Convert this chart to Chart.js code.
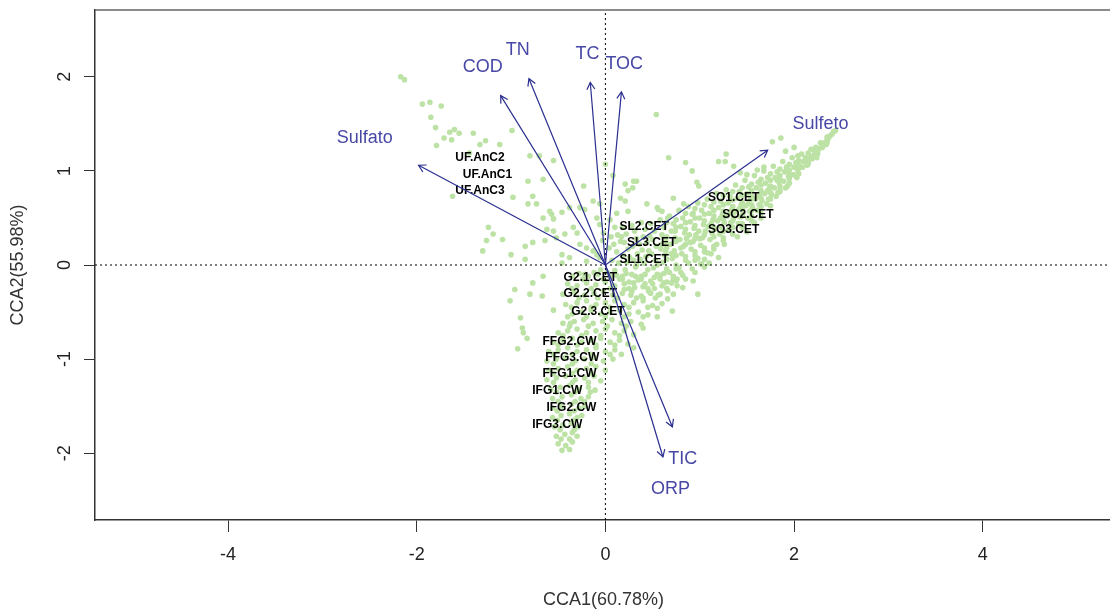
<!DOCTYPE html>
<html lang="pt">
<head>
<meta charset="UTF-8">
<title>CCA biplot</title>
<script src="https://cdn.jsdelivr.net/npm/chart.js"></script>
<style>
  html, body { margin: 0; padding: 0; background: #fff; overflow: hidden; }
  #wrap { width: 1110px; height: 611px; overflow: hidden; }
</style>
</head>
<body>
<div id="wrap"><canvas id="cca" width="1116" height="611"></canvas></div>
<script>
// axes
const xRange = [-5.41, 5.37];
const yRange = [-2.71, 2.71];
const xTicks = [-4, -2, 0, 2, 4];
const yTicks = [-2, -1, 0, 1, 2];
const xTitle = 'CCA1(60.78%)';
const yTitle = 'CCA2(55.98%)';

// environmental vectors (arrow tips + label spots)
const envNames = ['COD', 'TN', 'TC', 'TOC', 'Sulfato', 'Sulfeto', 'TIC', 'ORP'];
const envX = [-1.11, -0.81, -0.16, 0.17, -1.98, 1.72, 0.71, 0.61];
const envY = [1.80, 1.98, 1.94, 1.84, 1.06, 1.22, -1.72, -2.04];
const envLabelX = [-1.30, -0.93, -0.19, 0.20, -2.55, 2.28, 0.82, 0.69];
const envLabelY = [2.10, 2.28, 2.24, 2.14, 1.35, 1.50, -2.06, -2.38];

// sample (site) labels
const siteNames = ['UF.AnC2', 'UF.AnC1', 'UF.AnC3', 'SL2.CET', 'SL3.CET', 'SL1.CET',
  'SO1.CET', 'SO2.CET', 'SO3.CET', 'G2.1.CET', 'G2.2.CET', 'G2.3.CET',
  'FFG2.CW', 'FFG3.CW', 'FFG1.CW', 'IFG1.CW', 'IFG2.CW', 'IFG3.CW'];
const siteX = [-1.33, -1.25, -1.33, 0.41, 0.49, 0.41, 1.36, 1.51, 1.36, -0.16, -0.16, -0.08,
  -0.38, -0.35, -0.38, -0.51, -0.36, -0.51];
const siteY = [1.14, 0.96, 0.79, 0.41, 0.24, 0.06, 0.72, 0.54, 0.37, -0.14, -0.31, -0.50,
  -0.81, -0.99, -1.16, -1.34, -1.52, -1.70];

// species scores
const speciesUpper = [
  [-2.17,2.00],[-2.13,1.97],[-1.94,1.71],[-1.86,1.73],[-1.74,1.69],[-1.85,1.57],[-1.80,1.46],
  [-1.65,1.41],[-1.60,1.44],[-1.55,1.40],[-1.71,1.35],[-1.63,1.33],[-1.40,1.40],[-1.33,1.28],
  [-1.27,1.32],[-1.12,1.28],[-0.99,1.43],[-1.79,1.27],[-1.44,1.19],[-0.80,1.16],[-0.70,1.16],
  [-0.55,1.11],[-0.66,0.91],[-0.82,0.89],[-0.23,0.84],[-1.62,0.73],[-0.98,0.72],[-0.77,0.73],
  [-0.73,0.65],[-0.82,0.65],[-0.59,0.57],[-0.57,0.54],[-0.55,0.49],[-0.66,0.50],[-0.46,0.56],
  [-0.38,0.61],[-0.27,0.61],[-0.22,0.59],[-0.13,0.68],[-0.06,0.65],[-1.24,0.40],[-1.19,0.33],
  [-1.26,0.26],[-1.09,0.27],[-1.30,0.15],[-1.00,0.11],[-0.85,0.20],[-0.77,0.24],[-0.64,0.26],
  [-0.55,0.36],[-0.52,0.29],[-0.43,0.33],[-0.62,0.38],[-0.34,0.40],[-0.30,0.34],[-0.27,0.22],
  [-0.20,0.18],[-0.13,0.15],[-0.09,0.11],[-0.06,0.08],[-0.46,0.11],[-0.38,0.08],[-0.20,0.04],
  [-0.85,0.06],[-0.09,0.50],[-0.06,0.43],[-0.02,0.34],[-0.03,0.26],
  [0.54,1.60],[0.00,1.07],[0.67,1.14],[0.85,1.09],[0.92,1.00],[0.97,0.88],[0.99,0.84],
  [1.20,1.10],[1.27,1.10],[1.28,1.18],[1.36,1.05],[1.43,0.98],[1.50,0.96],[1.61,1.01],
  [1.68,1.04],[1.77,1.31],[1.86,1.35],[1.91,1.21],[2.00,1.25],[2.04,1.16],[0.30,0.89],
  [0.33,0.89],[0.24,0.79],[0.21,0.68],[0.56,0.59],[0.60,0.57],[0.21,0.86],[0.29,0.82],
  [0.16,0.71],[0.44,0.65],[0.24,0.57],[0.55,0.61],[0.72,0.71],[0.66,0.50],[0.83,0.65],
  [0.93,0.55],[0.08,0.95],[0.12,0.55],[0.05,0.48],[0.10,0.40]
];
const speciesBand = [
  [0.06,0.30],[0.09,0.22],[0.12,0.14],[0.07,0.05],[0.14,0.02],[0.10,-0.06],[0.05,-0.12],[0.15,-0.15],
  [0.08,-0.22],[0.13,0.32],[0.16,0.25],[0.04,0.18],
  [0.18,0.40],[0.22,0.33],[0.20,0.24],[0.24,0.17],[0.19,0.10],[0.23,0.03],[0.21,-0.05],[0.18,-0.12],
  [0.25,-0.18],[0.20,-0.26],[0.26,0.08],[0.17,0.30],
  [0.28,0.42],[0.31,0.36],[0.33,0.28],[0.29,0.20],[0.34,0.12],[0.30,0.05],[0.32,-0.02],[0.28,-0.10],
  [0.35,-0.16],[0.31,-0.24],[0.27,-0.32],[0.36,0.22],[0.33,0.00],
  [0.38,0.45],[0.42,0.38],[0.40,0.30],[0.44,0.24],[0.39,0.16],[0.43,0.09],[0.41,0.02],[0.45,-0.05],
  [0.38,-0.12],[0.42,-0.20],[0.46,-0.28],[0.40,-0.35],[0.37,0.06],[0.46,0.15],
  [0.48,0.44],[0.52,0.36],[0.50,0.27],[0.54,0.20],[0.49,0.12],[0.53,0.05],[0.51,-0.03],[0.55,-0.10],
  [0.48,-0.17],[0.52,-0.25],[0.56,-0.32],[0.47,0.31],[0.55,0.00],
  [0.58,0.48],[0.62,0.40],[0.60,0.32],[0.64,0.25],[0.59,0.17],[0.63,0.10],[0.61,0.03],[0.65,-0.04],
  [0.58,-0.11],[0.62,-0.19],[0.66,-0.27],[0.60,0.22],[0.64,0.14],
  [0.68,0.52],[0.72,0.44],[0.70,0.36],[0.74,0.29],[0.69,0.22],[0.73,0.15],[0.71,0.07],[0.75,0.00],
  [0.68,-0.08],[0.72,-0.15],[0.76,-0.22],[0.70,0.12],[0.74,0.36],
  [0.78,0.58],[0.82,0.50],[0.80,0.41],[0.84,0.34],[0.79,0.27],[0.83,0.20],[0.81,0.12],[0.85,0.05],
  [0.78,-0.03],[0.82,-0.11],[0.86,0.28],[0.80,0.18],
  [0.88,0.62],[0.92,0.54],[0.90,0.46],[0.94,0.39],[0.89,0.32],[0.93,0.25],[0.91,0.17],[0.95,0.10],
  [0.88,0.02],[0.92,-0.04],[0.96,0.32],[0.90,0.24],
  [0.98,0.66],[1.02,0.58],[1.00,0.50],[1.04,0.43],[0.99,0.36],[1.03,0.29],[1.01,0.21],[1.05,0.14],
  [0.98,0.07],[1.02,0.01],[1.06,0.36],[1.00,0.28],
  [1.08,0.70],[1.12,0.62],[1.10,0.55],[1.14,0.48],[1.09,0.41],[1.13,0.34],[1.11,0.27],[1.15,0.20],
  [1.08,0.13],[1.12,0.44],[1.16,0.38],
  [1.18,0.76],[1.22,0.68],[1.20,0.61],[1.24,0.54],[1.19,0.47],[1.23,0.40],[1.21,0.33],[1.25,0.26],
  [1.18,0.22],[1.22,0.50],[1.26,0.45],
  [1.28,0.80],[1.32,0.73],[1.30,0.66],[1.34,0.59],[1.29,0.52],[1.33,0.45],[1.31,0.38],[1.35,0.33],
  [1.32,0.56],[1.36,0.50],
  [1.38,0.85],[1.42,0.78],[1.40,0.71],[1.44,0.64],[1.39,0.57],[1.43,0.51],[1.41,0.44],[1.45,0.40],
  [1.42,0.60],[1.46,0.55],
  [1.48,0.90],[1.52,0.83],[1.50,0.76],[1.54,0.70],[1.49,0.63],[1.53,0.57],[1.51,0.50],[1.55,0.47],
  [1.52,0.66],[1.56,0.61],
  [1.58,0.95],[1.62,0.88],[1.60,0.82],[1.64,0.76],[1.59,0.70],[1.63,0.64],[1.61,0.58],[1.65,0.55],
  [1.62,0.73],[1.66,0.68],
  [1.68,1.00],[1.72,0.93],[1.70,0.87],[1.74,0.82],[1.69,0.76],[1.73,0.70],[1.71,0.65],[1.75,0.63],
  [1.72,0.79],[1.76,0.75],
  [1.78,1.05],[1.82,0.99],[1.80,0.93],[1.84,0.88],[1.79,0.82],[1.83,0.77],[1.81,0.73],[1.85,0.84],
  [1.82,0.90],
  [1.88,1.10],[1.92,1.04],[1.90,0.99],[1.94,0.94],[1.89,0.89],[1.93,0.84],[1.91,0.82],[1.95,0.97],
  [1.92,1.00],
  [1.98,1.14],[2.02,1.09],[2.00,1.04],[2.04,1.00],[1.99,0.96],[2.03,0.93],[2.05,1.06],
  [2.08,1.18],[2.12,1.14],[2.10,1.10],[2.14,1.06],[2.09,1.04],[2.13,1.12],[2.15,1.15],
  [2.18,1.23],[2.22,1.20],[2.20,1.16],[2.24,1.14],[2.19,1.13],[2.23,1.25],
  [2.28,1.30],[2.32,1.30],[2.30,1.25],[2.34,1.28],[2.27,1.24],[2.36,1.34],
  [2.38,1.37],[2.42,1.42],[2.40,1.39],[2.35,1.33],[2.44,1.43],
  [1.65,0.50],[1.50,0.35],[1.26,0.22],[1.12,0.12],[1.40,0.30],[1.58,0.45],[1.20,0.08],[1.05,-0.02],
  [0.95,-0.08],[0.85,-0.15],[1.10,0.02],
  [0.65,0.45],[0.65,0.30],[0.65,0.18],[0.65,0.06],[0.65,-0.06],[0.65,-0.18],
  [0.75,0.48],[0.75,0.40],[0.75,0.25],[0.75,0.10],[0.75,-0.04],[0.75,-0.17],
  [0.85,0.55],[0.85,0.45],[0.85,0.38],[0.85,0.22],[0.85,0.09],
  [0.95,0.60],[0.95,0.50],[0.95,0.42],[0.95,0.28],[0.95,0.14],[0.95,0.05],
  [1.05,0.64],[1.05,0.54],[1.05,0.47],[1.05,0.32],[1.05,0.18],[1.05,0.06],
  [1.15,0.67],[1.15,0.58],[1.15,0.52],[1.15,0.40],[1.15,0.30],[1.15,0.17],
  [1.25,0.74],[1.25,0.64],[1.25,0.57],[1.25,0.49],[1.25,0.36],[1.25,0.29],
  [1.35,0.78],[1.35,0.69],[1.35,0.62],[1.35,0.54],[1.35,0.47],[1.35,0.40],
  [1.45,0.82],[1.45,0.74],[1.45,0.67],[1.45,0.59],[1.45,0.52],[1.45,0.44],
  [1.55,0.86],[1.55,0.79],[1.55,0.73],[1.55,0.64],[1.55,0.58],[1.55,0.52],
  [1.65,0.91],[1.65,0.85],[1.65,0.79],[1.65,0.71],[1.65,0.62],
  [1.75,0.97],[1.75,0.90],[1.75,0.84],[1.75,0.77],[1.75,0.70],
  [1.85,1.02],[1.85,0.95],[1.85,0.91],[1.85,0.80],[1.85,0.78],
  [1.95,1.07],[1.95,1.01],[1.95,0.92],[1.95,0.87],
  [2.05,1.11],[2.05,1.04],[2.05,0.97],
  [2.15,1.19],[2.15,1.10],[2.15,1.08],
  [2.25,1.21],[2.25,1.18],[2.35,1.30],[2.35,1.36]
];
const speciesLower = [
  [-0.46,0.02],[-0.66,-0.12],[-0.77,-0.19],[-0.96,-0.26],[-0.80,-0.31],[-0.67,-0.33],[-1.01,-0.38],
  [-0.55,-0.48],[-0.90,-0.56],[-0.88,-0.67],[-0.37,-0.62],[-0.87,-0.72],[-0.83,-0.78],[-0.93,-0.89],
  [1.01,0.01],[0.93,-0.17],[0.98,-0.31],[0.72,-0.31],[0.71,-0.49],[0.55,-0.46],[0.40,-0.67],[0.30,-0.88],
  [-0.05,-0.05],[-0.12,-0.08],[-0.22,-0.10],[-0.35,-0.12],
  [-0.28,-0.09],[-0.18,-0.12],[-0.08,-0.10],[0.02,-0.08],[0.12,-0.11],[0.22,-0.09],[0.32,-0.12],
  [0.42,-0.10],[0.52,-0.13],[0.62,-0.09],[0.72,-0.12],[0.80,-0.08],
  [-0.40,-0.20],[-0.30,-0.22],[-0.20,-0.19],[-0.10,-0.21],[0.00,-0.18],[0.10,-0.22],[0.20,-0.20],
  [0.30,-0.19],[0.40,-0.23],[0.50,-0.20],[0.60,-0.22],[0.70,-0.19],[0.82,-0.24],
  [-0.45,-0.31],[-0.33,-0.29],[-0.22,-0.32],[-0.12,-0.30],[-0.02,-0.28],[0.08,-0.32],[0.18,-0.30],
  [0.28,-0.28],[0.38,-0.33],[0.48,-0.30],[0.58,-0.31],[0.66,-0.36],
  [-0.42,-0.42],[-0.30,-0.40],[-0.20,-0.38],[-0.10,-0.42],[0.00,-0.40],[0.10,-0.38],[0.20,-0.42],
  [0.30,-0.40],[0.40,-0.38],[0.50,-0.43],[0.60,-0.41],
  [-0.35,-0.52],[-0.25,-0.50],[-0.15,-0.48],[-0.05,-0.52],[0.05,-0.50],[0.15,-0.48],[0.25,-0.52],
  [0.35,-0.50],[0.45,-0.53],[0.55,-0.55],
  [-0.45,-0.62],[-0.33,-0.60],[-0.23,-0.58],[-0.13,-0.62],[-0.03,-0.60],[0.07,-0.58],[0.17,-0.62],
  [0.27,-0.60],[0.38,-0.63],
  [-0.50,-0.72],[-0.40,-0.70],[-0.30,-0.68],[-0.20,-0.72],[-0.10,-0.70],[0.00,-0.68],[0.10,-0.72],
  [0.20,-0.70],[0.30,-0.74],
  [-0.55,-0.82],[-0.45,-0.80],[-0.35,-0.78],[-0.25,-0.82],[-0.15,-0.80],[-0.05,-0.78],[0.05,-0.82],
  [0.15,-0.80],[0.24,-0.84],
  [-0.60,-0.92],[-0.50,-0.90],[-0.40,-0.88],[-0.30,-0.92],[-0.20,-0.90],[-0.10,-0.88],[0.00,-0.92],
  [0.10,-0.90],[0.17,-0.95],
  [-0.62,-1.02],[-0.52,-1.00],[-0.42,-0.98],[-0.32,-1.02],[-0.22,-1.00],[-0.12,-0.98],[-0.02,-1.02],
  [0.08,-1.00],
  [-0.60,-1.12],[-0.50,-1.10],[-0.40,-1.08],[-0.30,-1.12],[-0.20,-1.10],[-0.10,-1.08],[0.00,-1.12],
  [-0.62,-1.22],[-0.52,-1.20],[-0.42,-1.18],[-0.32,-1.22],[-0.22,-1.20],[-0.12,-1.18],[-0.05,-1.23],
  [-0.58,-1.32],[-0.48,-1.30],[-0.38,-1.28],[-0.28,-1.32],[-0.18,-1.30],[-0.11,-1.33],
  [-0.56,-1.42],[-0.46,-1.40],[-0.36,-1.38],[-0.26,-1.42],[-0.18,-1.40],
  [-0.56,-1.52],[-0.46,-1.50],[-0.36,-1.48],[-0.28,-1.52],[-0.22,-1.50],
  [-0.56,-1.62],[-0.47,-1.60],[-0.38,-1.58],[-0.30,-1.62],[-0.25,-1.60],
  [-0.54,-1.72],[-0.45,-1.70],[-0.36,-1.68],[-0.29,-1.72],
  [-0.52,-1.82],[-0.43,-1.80],[-0.35,-1.78],[-0.30,-1.82],
  [-0.50,-1.90],[-0.42,-1.92],[-0.35,-1.88],[-0.46,-1.97],[-0.38,-1.96],
  [-0.24,-0.15],[-0.02,-0.15],[0.18,-0.15],[0.38,-0.15],[0.58,-0.15],[0.76,-0.15],
  [-0.36,-0.25],[-0.15,-0.25],[0.05,-0.25],[0.25,-0.25],[0.45,-0.25],[0.65,-0.25],
  [-0.28,-0.35],[-0.08,-0.35],[0.13,-0.35],[0.33,-0.35],[0.53,-0.35],
  [-0.36,-0.45],[-0.15,-0.45],[0.05,-0.45],[0.25,-0.45],[0.45,-0.45],
  [-0.40,-0.55],[-0.20,-0.55],[0.00,-0.55],[0.20,-0.55],[0.40,-0.55],
  [-0.38,-0.65],[-0.18,-0.65],[0.02,-0.65],[0.22,-0.65],
  [-0.45,-0.75],[-0.25,-0.75],[-0.05,-0.75],[0.15,-0.75],
  [-0.50,-0.85],[-0.30,-0.85],[-0.10,-0.85],[0.10,-0.85],
  [-0.55,-0.95],[-0.35,-0.95],[-0.15,-0.95],[0.05,-0.95],
  [-0.55,-1.05],[-0.35,-1.05],[-0.15,-1.05],
  [-0.55,-1.15],[-0.35,-1.15],[-0.15,-1.15],
  [-0.55,-1.25],[-0.35,-1.25],[-0.18,-1.25],
  [-0.52,-1.35],[-0.32,-1.35],[-0.16,-1.35],
  [-0.50,-1.45],[-0.32,-1.45],[-0.22,-1.45],
  [-0.51,-1.55],[-0.33,-1.55],[-0.51,-1.65],[-0.34,-1.65],
  [-0.48,-1.75],[-0.33,-1.75],[-0.47,-1.85],[-0.38,-1.85]
];

const FONT = "'Liberation Sans', Arial, sans-serif";
const arrowColor = '#2b2f8f';
const envTextColor = '#4747a6';
const pointColor = '#bde2a5';

const species = speciesUpper.concat(speciesBand, speciesLower).map(p => ({ x: p[0], y: p[1] }));

const arrowSets = envNames.map((n, i) => ({
  type: 'line',
  label: n,
  data: [{ x: 0, y: 0 }, { x: envX[i], y: envY[i] }],
  borderColor: arrowColor,
  borderWidth: 1.2,
  pointRadius: 0,
  order: 1
}));

// arrow heads, frame top, texts
const overlay = {
  id: 'overlay',
  afterDatasetDraw(chart, args) {
    if (args.index !== 0) return;
    const { ctx, scales: { x, y } } = chart;
    ctx.save();
    ctx.fillStyle = '#000';
    ctx.font = 'bold 12px ' + FONT;
    ctx.textAlign = 'center';
    ctx.textBaseline = 'middle';
    siteNames.forEach((s, i) => {
      ctx.fillText(s, x.getPixelForValue(siteX[i]), y.getPixelForValue(siteY[i]));
    });
    ctx.restore();
  },
  afterDatasetsDraw(chart) {
    const { ctx, chartArea: a, scales: { x, y } } = chart;
    ctx.save();
    ctx.strokeStyle = '#666';
    ctx.lineWidth = 1.5;
    ctx.beginPath();
    ctx.moveTo(a.left, a.top);
    ctx.lineTo(a.right, a.top);
    ctx.stroke();

    const x0 = x.getPixelForValue(0), y0 = y.getPixelForValue(0);
    ctx.strokeStyle = arrowColor;
    ctx.lineWidth = 1.2;
    envNames.forEach((n, i) => {
      const x1 = x.getPixelForValue(envX[i]), y1 = y.getPixelForValue(envY[i]);
      const ang = Math.atan2(y1 - y0, x1 - x0);
      const L = 8, h = Math.PI / 6;
      ctx.beginPath();
      ctx.moveTo(x1 - L * Math.cos(ang - h), y1 - L * Math.sin(ang - h));
      ctx.lineTo(x1, y1);
      ctx.lineTo(x1 - L * Math.cos(ang + h), y1 - L * Math.sin(ang + h));
      ctx.stroke();
    });

    ctx.fillStyle = envTextColor;
    ctx.font = '18px ' + FONT;
    ctx.textAlign = 'center';
    ctx.textBaseline = 'middle';
    envNames.forEach((n, i) => {
      ctx.fillText(n, x.getPixelForValue(envLabelX[i]), y.getPixelForValue(envLabelY[i]));
    });

    // rotated y tick labels, like R
    ctx.fillStyle = '#222';
    ctx.font = '18px ' + FONT;
    ctx.textBaseline = 'alphabetic';
    yTicks.forEach(v => {
      ctx.save();
      ctx.translate(70, y.getPixelForValue(v));
      ctx.rotate(-Math.PI / 2);
      ctx.fillText(String(v), 0, 0);
      ctx.restore();
    });
    ctx.restore();
  }
};

new Chart(document.getElementById('cca').getContext('2d'), {
  type: 'scatter',
  data: {
    datasets: [
      {
        label: 'species',
        data: species,
        backgroundColor: pointColor,
        borderWidth: 0,
        pointRadius: 2.8,
        order: 3
      },
      {
        type: 'line',
        data: [{ x: xRange[0], y: 0 }, { x: xRange[1], y: 0 }],
        borderColor: '#000', borderWidth: 1, borderDash: [2, 3], pointRadius: 0, order: 2
      },
      {
        type: 'line',
        data: [{ x: 0, y: yRange[0] }, { x: 0, y: yRange[1] }],
        borderColor: '#000', borderWidth: 1, borderDash: [2, 3], pointRadius: 0, order: 2
      },
      ...arrowSets
    ]
  },
  options: {
    responsive: false,
    animation: false,
    devicePixelRatio: 1,
    layout: { padding: { top: 10, right: 0, left: 0, bottom: 0 } },
    plugins: { legend: { display: false }, tooltip: { enabled: false } },
    scales: {
      x: {
        type: 'linear',
        min: xRange[0], max: xRange[1],
        afterBuildTicks: s => { s.ticks = xTicks.map(v => ({ value: v })); },
        afterFit: s => { s.height = 91; },
        grid: { drawOnChartArea: false, drawTicks: true, tickLength: 12, color: '#333', lineWidth: 1 },
        border: { display: true, color: '#333', width: 1.5 },
        ticks: { color: '#222', font: { family: FONT, size: 18 }, padding: 12, maxRotation: 0, autoSkip: false },
        title: { display: true, text: xTitle, color: '#333', font: { family: FONT, size: 18 }, padding: { top: 0, bottom: 0 } }
      },
      y: {
        type: 'linear',
        min: yRange[0], max: yRange[1],
        afterBuildTicks: s => { s.ticks = yTicks.map(v => ({ value: v })); },
        afterFit: s => { s.width = 95; },
        grid: { drawOnChartArea: false, drawTicks: true, tickLength: 11, color: '#333', lineWidth: 1 },
        border: { display: true, color: '#333', width: 1.5 },
        ticks: { display: false },
        title: { display: true, text: yTitle, color: '#333', font: { family: FONT, size: 18 }, padding: { top: 7, bottom: 0 } }
      }
    }
  },
  plugins: [overlay]
});
</script>
</body>
</html>
